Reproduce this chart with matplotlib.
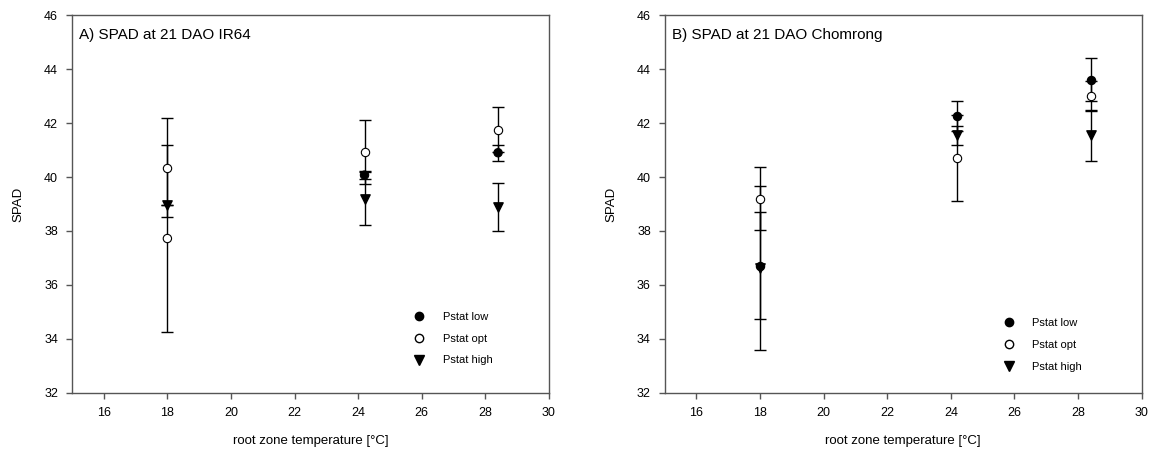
import numpy as np
import matplotlib
matplotlib.use("Agg")
import matplotlib.pyplot as plt

plt.rcParams['font.family'] = ['Liberation Sans', 'DejaVu Sans']

# DATA
temps = [18.0, 24.2, 28.4]

# A) IR64
ir64_low = [37.72, 40.07, 40.90]
ir64_low_err = [3.45, 0.16, 0.30]
ir64_opt = [40.35, 40.93, 41.76]
ir64_opt_err = [1.84, 1.20, 0.85]
ir64_high = [38.96, 39.20, 38.89]
ir64_high_err = [0.0, 0.98, 0.90]

# B) Chomrong
chom_low = [36.72, 42.25, 43.60]
chom_low_err = [2.00, 0.55, 0.80]
chom_opt = [39.20, 40.70, 43.00]
chom_opt_err = [1.17, 1.60, 0.55]
chom_high = [36.62, 41.55, 41.55]
chom_high_err = [3.05, 0.35, 0.95]

titles = ["A) SPAD at 21 DAO IR64", "B) SPAD at 21 DAO Chomrong"]
labels = ["Pstat low", "Pstat opt", "Pstat high"]


def draw_panel(ax, low, low_err, opt, opt_err, high, high_err, title, low_faces, leg_anchor):
    ebkw = dict(fmt='none', ecolor='black', elinewidth=1, capsize=4.5, capthick=1, zorder=2)
    ax.errorbar(temps, high, yerr=high_err, **ebkw)
    ax.errorbar(temps, opt, yerr=opt_err, **ebkw)
    ax.errorbar(temps, low, yerr=low_err, **ebkw)

    ax.scatter(temps, high, marker='v', s=45, c='black', zorder=3)
    ax.scatter(temps, low, marker='o', s=36, facecolors=low_faces, edgecolors='black', linewidths=0.8, zorder=4)
    ax.scatter(temps, opt, marker='o', s=36, facecolors='white', edgecolors='black', linewidths=0.8, zorder=5)

    # legend handles
    h1, = ax.plot([], [], 'o', color='black', markersize=6)
    h2, = ax.plot([], [], 'o', markerfacecolor='white', markeredgecolor='black', markersize=6)
    h3, = ax.plot([], [], 'v', color='black', markersize=7)
    ax.legend([h1, h2, h3], labels, loc='lower left', bbox_to_anchor=leg_anchor,
              frameon=False, fontsize=8, handletextpad=1.55, labelspacing=1.07, handlelength=1.2)

    ax.set_xlim(15, 30)
    ax.set_ylim(32, 46)
    ax.set_xticks(np.arange(16, 31, 2))
    ax.set_yticks(np.arange(32, 47, 2))
    ax.tick_params(direction='out', length=4, width=1, color='#555555', labelsize=9, pad=6)
    for s in ax.spines.values():
        s.set_color('#555555')
        s.set_linewidth(1)

    ax.text(0.015, 0.965, title, transform=ax.transAxes, ha='left', va='top', fontsize=11)
    ax.set_xlabel("root zone temperature [°C]", fontsize=9.5, labelpad=12)
    ax.set_ylabel("SPAD", fontsize=9.5, labelpad=14)


fig = plt.figure(figsize=(11.52, 4.66), dpi=100)
ax1 = fig.add_axes([0.0625, 0.157, 0.414, 0.8105])
ax2 = fig.add_axes([0.577, 0.157, 0.414, 0.8105])

draw_panel(ax1, ir64_low, ir64_low_err, ir64_opt, ir64_opt_err, ir64_high, ir64_high_err,
           titles[0], ['white', 'black', 'black'], (0.693, 0.046))
draw_panel(ax2, chom_low, chom_low_err, chom_opt, chom_opt_err, chom_high, chom_high_err,
           titles[1], 'black', (0.686, 0.029))

fig.savefig("out.png", dpi=100)
